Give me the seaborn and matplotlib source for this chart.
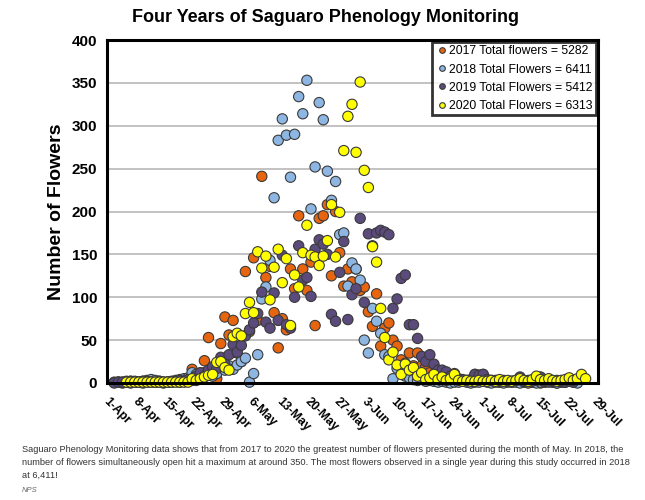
"""
Four years of saguaro phenology monitoring: daily open flower counts
for 2017-2020, one point per observation day from 1-Apr.
"""

import numpy as np
import pandas as pd
import seaborn as sns
import matplotlib.pyplot as plt

sns.set_style("white")
plt.rcParams["font.family"] = ["Liberation Sans", "DejaVu Sans"]
plt.rcParams["text.color"] = "black"
plt.rcParams["axes.labelcolor"] = "black"
plt.rcParams["xtick.color"] = "black"
plt.rcParams["ytick.color"] = "black"

# tick labels on the date axis (one per week, starting 1-Apr = day 0)
week_labels = ["1-Apr", "8-Apr", "15-Apr", "22-Apr", "29-Apr", "6-May",
               "13-May", "20-May", "27-May", "3-Jun", "10-Jun", "17-Jun",
               "24-Jun", "1-Jul", "8-Jul", "15-Jul", "22-Jul", "29-Jul"]

series_labels = ["2017 Total flowers = 5282", "2018 Total Flowers = 6411",
                 "2019 Total Flowers = 5412", "2020 Total Flowers = 6313"]
series_colors = ["#E8650F", "#8EB6E3", "#5B4A7C", "#FFFF00"]

# first observation day of each year (days after 1-Apr)
first_day = [1, 2, 1, 4]

# daily flower counts
flowers_2017 = [1, 1, 0, 1, 0, 1, 1, 0, 1, 2, 1, 1, 0, 1, 1, 2, 1, 2,
                3, 16, 8, 6, 26, 53, 10, 5, 46, 77, 56, 73,
                35, 25, 130, 60, 146, 73, 241, 123, 136, 82, 41, 75,
                62, 133, 110, 195, 133, 108, 141, 67, 192, 195, 208, 125,
                200, 152, 113, 133, 118, 133, 108, 112, 83, 66, 104, 43,
                64, 70, 50, 43, 27, 23, 35, 20, 35, 20, 19, 12,
                10, 9, 6, 8, 5, 11, 3, 3, 2, 4, 10, 9,
                10, 3, 2, 2, 1, 2, 1, 1, 2, 1, 1, 0,
                1, 1, 0, 1, 2, 1, 0, 1, 1]

flowers_2018 = [1, 1, 2, 2, 2, 1, 2, 3, 4, 3, 2, 1, 1, 1, 3, 4, 5, 6,
                12, 10, 9, 12, 13, 8, 11, 18, 15, 20, 16, 21,
                25, 29, 1, 11, 33, 98, 112, 143, 216, 283, 308, 289,
                240, 290, 334, 314, 353, 203, 252, 327, 307, 247, 213, 235,
                173, 175, 113, 140, 133, 120, 50, 35, 87, 72, 58, 33,
                31, 5, 17, 19, 8, 6, 4, 3, 5, 2, 3, 2,
                1, 2, 1, 0, 1, 1, 2, 1, 0, 1, 1, 2,
                1, 0, 1, 1, 0, 2, 1, 1, 0, 1, 2, 1,
                0, 1, 1, 2, 1, 0, 1, 1, 2, 1, 0]

flowers_2019 = [0, 1, 1, 1, 2, 1, 1, 2, 2, 1, 1, 2, 1, 1, 2, 2, 3, 2,
                4, 3, 8, 12, 8, 15, 19, 17, 30, 22, 33, 45,
                36, 44, 55, 62, 70, 81, 106, 71, 64, 105, 73, 149,
                68, 64, 100, 160, 120, 123, 101, 156, 167, 162, 150, 80,
                72, 129, 165, 74, 103, 110, 192, 94, 174, 160, 175, 178,
                176, 173, 87, 98, 122, 126, 68, 68, 52, 31, 25, 33,
                22, 15, 15, 13, 8, 6, 5, 4, 3, 3, 10, 9,
                10, 4, 3, 3, 2, 3, 2, 2, 3, 7, 2, 3,
                2, 3, 7, 2, 1, 2, 3, 2, 1, 2, 1]

flowers_2020 = [1, 1, 1, 1, 1, 1, 1, 1, 1, 1, 1, 1, 1, 1, 1, 1,
                5, 3, 5, 7, 9, 10, 24, 25, 18, 15, 54, 58,
                55, 81, 94, 82, 153, 134, 148, 97, 135, 156, 117, 145,
                67, 126, 112, 152, 184, 149, 147, 137, 148, 166, 208, 147,
                199, 271, 311, 325, 269, 351, 248, 228, 159, 141, 87, 53,
                27, 36, 21, 10, 22, 15, 18, 8, 12, 4, 6, 10,
                4, 7, 3, 5, 10, 3, 2, 3, 2, 2, 3, 2,
                2, 3, 2, 4, 2, 3, 2, 3, 5, 3, 2, 4,
                8, 4, 3, 5, 3, 2, 3, 4, 6, 3, 5, 10, 5]

CAPTION = ("Saguaro Phenology Monitoring data shows that from 2017 to 2020 "
           "the greatest number of flowers presented during the month of "
           "May. In 2018, the\nnumber of flowers simultaneously open hit a "
           "maximum at around 350. The most flowers observed in a single "
           "year during this study occurred in 2018\nat 6,411!")


def build_dataframe():
    """ Stacks the four yearly series into one long dataframe
    with a day column, a count column and a legend label column.
    """
    frames = []
    all_counts = [flowers_2017, flowers_2018, flowers_2019, flowers_2020]
    for label, start, counts in zip(series_labels, first_day, all_counts):
        frames.append(pd.DataFrame({
            "Day": np.arange(start, start + len(counts)),
            "Flowers": counts,
            "Series": label}))
    return pd.concat(frames, ignore_index=True)


def plot_flowers(data):
    fig = plt.figure(figsize=(6.45, 5.0), dpi=100)
    ax = fig.add_axes([0.166, 0.234, 0.761, 0.686])

    sns.scatterplot(x="Day", y="Flowers", hue="Series", data=data, ax=ax,
                    palette=dict(zip(series_labels, series_colors)),
                    s=55, edgecolor="#3a3a3a", linewidth=0.8,
                    clip_on=False, zorder=3)

    ax.set_xlim(-0.75, 119)
    ax.set_ylim(0, 400)
    ax.set_xticks(np.arange(0, 7 * len(week_labels), 7))
    ax.set_xticklabels(week_labels, rotation=-45, ha="left", va="top",
                       rotation_mode="anchor", fontsize=8.8,
                       fontweight="bold")
    ax.set_yticks(np.arange(0, 401, 50))
    ax.set_yticklabels([str(v) for v in range(0, 401, 50)], fontsize=11,
                       fontweight="bold")
    ax.tick_params(axis="both", direction="out", length=4, width=1,
                   color="#999999", pad=3)
    ax.tick_params(axis="x", pad=5)
    ax.yaxis.grid(True, color="#BDBDBD", linewidth=1.3)
    ax.xaxis.grid(False)
    ax.set_axisbelow(True)
    for spine in ax.spines.values():
        spine.set_linewidth(2.2)
        spine.set_color("black")
        spine.set_zorder(4)

    ax.set_xlabel("")
    ax.set_ylabel("Number of Flowers", fontsize=14, fontweight="bold",
                  labelpad=5)
    # the title is centred on the whole figure, not on the axes
    fig.suptitle("Four Years of Saguaro Phenology Monitoring", x=0.504,
                 y=0.964, va="center", fontsize=13, fontweight="heavy")

    leg = ax.legend(loc="upper right", borderaxespad=0.15, fontsize=8.8,
                    frameon=True, fancybox=False, markerscale=0.55,
                    handletextpad=0.15, handlelength=0.9, labelspacing=0.5,
                    borderpad=0.3)
    leg.get_frame().set_edgecolor("black")
    leg.get_frame().set_linewidth(2)
    leg.set_zorder(5)

    fig.text(0.034, 0.109, CAPTION, fontsize=6.7, color="#333333",
             va="top", ha="left", linespacing=1.55)
    fig.text(0.034, 0.018, "NPS", fontsize=5.5, color="#666666",
             style="italic", va="center", ha="left")

    fig.savefig("out.png", dpi=100)
    plt.close(fig)


def main():
    data = build_dataframe()
    plot_flowers(data)


if __name__ == '__main__':
    main()
